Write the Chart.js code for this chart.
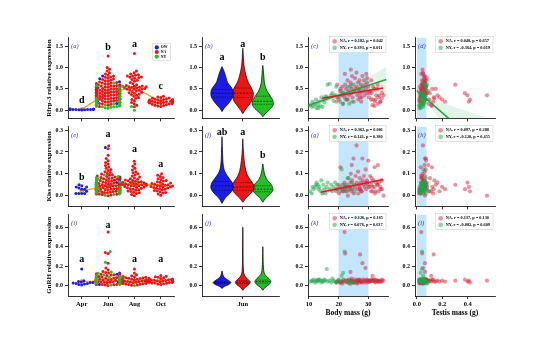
<!DOCTYPE html>
<html>
<head>
<meta charset="utf-8">
<title>Rfrp-3, Kiss and GnRH expression</title>
<script src="https://cdn.jsdelivr.net/npm/chart.js@4.4.1/dist/chart.umd.min.js"></script>
<style>
  html, body { margin: 0; padding: 0; background: #fff; }
  #fig { position: relative; width: 550px; height: 338px; overflow: hidden; background: #fff; }
  #fig canvas { position: absolute; }
</style>
</head>
<body>
<div id="fig"></div>
<script>
// ---------- month data (swarm panels) ----------
const months = ['Apr', 'Jun', 'Aug', 'Oct'];

// Rfrp-3
const rfrpAprOW = [0.01, 0.02, 0.03, 0.02, 0.01, 0.02, 0.03, 0.02, 0.01, 0.02, 0.02, 0.03];
const rfrpJunNA = [0.09, 0.12, 0.14, 0.15, 0.17, 0.18, 0.19, 0.20, 0.21, 0.22,
  0.23, 0.24, 0.25, 0.26, 0.26, 0.27, 0.28, 0.29, 0.30, 0.31,
  0.31, 0.32, 0.33, 0.34, 0.35, 0.35, 0.36, 0.37, 0.38, 0.38,
  0.39, 0.40, 0.40, 0.41, 0.42, 0.42, 0.43, 0.44, 0.45, 0.45,
  0.46, 0.47, 0.48, 0.48, 0.49, 0.50, 0.51, 0.52, 0.53, 0.54,
  0.55, 0.56, 0.57, 0.58, 0.59, 0.60, 0.61, 0.62, 0.63, 0.64,
  0.65, 0.66, 0.68, 0.69, 0.70, 0.72, 0.73, 0.75, 0.77, 0.78,
  0.80, 0.82, 0.85, 0.88, 0.92, 0.96, 1.00, 1.27, 0.16, 0.24,
  0.33, 0.29, 0.36, 0.43, 0.47, 0.51, 0.27, 0.39, 0.34, 0.44,
  0.57, 0.25, 0.30, 0.41, 0.37, 0.22, 0.32, 0.46, 0.53, 0.62];
const rfrpJunOW = [0.10, 0.16, 0.21, 0.26, 0.30, 0.34, 0.38, 0.41, 0.45, 0.49, 0.53, 0.58, 0.62, 0.67, 0.74, 0.80, 0.28, 0.44];
const rfrpJunNY = [0.05, 0.06, 0.07, 0.08, 0.08, 0.09, 0.10, 0.10, 0.11, 0.12, 0.12, 0.13, 0.14, 0.15, 0.15,
  0.16, 0.17, 0.18, 0.19, 0.20, 0.22, 0.24, 0.26, 0.28, 0.31, 0.36, 0.44, 0.52, 0.58, 0.64];
const rfrpAugNA = [1.33, 0.92, 0.88, 0.85, 0.83, 0.82, 0.80, 0.80, 0.78, 0.77, 0.76, 0.75, 0.72, 0.70, 0.68,
  0.65, 0.62, 0.60, 0.58, 0.57, 0.56, 0.55, 0.55, 0.54, 0.53, 0.53, 0.52, 0.51, 0.50, 0.50,
  0.49, 0.48, 0.47, 0.45, 0.44, 0.42, 0.41, 0.40, 0.38, 0.37, 0.35, 0.33, 0.30, 0.28, 0.25,
  0.22, 0.18, 0.15, 0.12, 0.08];
const rfrpAugNY = [0.00, 0.09, 0.56];
const rfrpOctNA = [0.33, 0.31, 0.30, 0.29, 0.28, 0.27, 0.26, 0.25, 0.25, 0.24, 0.23, 0.23, 0.22, 0.22, 0.21,
  0.21, 0.20, 0.20, 0.20, 0.19, 0.19, 0.18, 0.18, 0.17, 0.17, 0.16, 0.15, 0.15, 0.14, 0.13,
  0.12, 0.11, 0.10, 0.09, 0.24];
const rfrpMeans = [0.02, 0.42, 0.53, 0.20];

// Kiss
const kissAprOW = [0.01, 0.01, 0.01, 0.01, 0.02, 0.03, 0.035, 0.04, 0.04, 0.045, 0.05, 0.03];
const kissJunNA = [0.000, 0.003, 0.005, 0.007, 0.008, 0.010, 0.011, 0.012, 0.013, 0.015,
  0.016, 0.017, 0.018, 0.019, 0.020, 0.021, 0.022, 0.023, 0.024, 0.025,
  0.026, 0.027, 0.028, 0.029, 0.030, 0.031, 0.032, 0.033, 0.034, 0.035,
  0.036, 0.037, 0.038, 0.039, 0.040, 0.041, 0.042, 0.043, 0.044, 0.045,
  0.046, 0.047, 0.048, 0.049, 0.050, 0.051, 0.052, 0.053, 0.055, 0.056,
  0.058, 0.060, 0.061, 0.063, 0.065, 0.067, 0.069, 0.071, 0.073, 0.075,
  0.077, 0.079, 0.081, 0.083, 0.085, 0.088, 0.090, 0.093, 0.096, 0.099,
  0.102, 0.106, 0.110, 0.115, 0.120, 0.125, 0.131, 0.138, 0.145, 0.152,
  0.160, 0.170, 0.185, 0.215, 0.228, 0.014, 0.027, 0.038, 0.044, 0.054,
  0.062, 0.009, 0.024, 0.034, 0.047, 0.057, 0.068, 0.080, 0.020, 0.031];
const kissJunOW = [0.008, 0.015, 0.022, 0.028, 0.035, 0.040, 0.046, 0.052, 0.060, 0.068, 0.075, 0.085, 0.030, 0.018, 0.050, 0.220, 0.062, 0.042];
const kissJunNY = [0.002, 0.006, 0.010, 0.012, 0.015, 0.018, 0.020, 0.023, 0.026, 0.028, 0.030, 0.033, 0.035, 0.038, 0.040,
  0.043, 0.046, 0.050, 0.053, 0.057, 0.060, 0.064, 0.068, 0.072, 0.077, 0.082, 0.088, 0.095, 0.045, 0.025];
const kissAugNA = [0.000, 0.005, 0.010, 0.013, 0.016, 0.019, 0.022, 0.025, 0.027, 0.030,
  0.032, 0.034, 0.036, 0.038, 0.040, 0.042, 0.044, 0.046, 0.048, 0.050,
  0.051, 0.052, 0.054, 0.055, 0.057, 0.058, 0.060, 0.062, 0.064, 0.066,
  0.068, 0.070, 0.072, 0.075, 0.078, 0.081, 0.085, 0.090, 0.095, 0.100,
  0.105, 0.110, 0.118, 0.125, 0.135, 0.145, 0.158, 0.050, 0.045, 0.061];
const kissOctNA = [0.002, 0.008, 0.012, 0.015, 0.018, 0.021, 0.024, 0.027, 0.030, 0.032,
  0.034, 0.036, 0.038, 0.040, 0.042, 0.044, 0.046, 0.048, 0.050, 0.052,
  0.054, 0.056, 0.058, 0.061, 0.064, 0.067, 0.070, 0.074, 0.078, 0.083,
  0.088, 0.094, 0.100, 0.047, 0.041];
const kissMeans = [0.022, 0.045, 0.052, 0.048];

// GnRH
const gnrhAprOW = [0.005, 0.01, 0.015, 0.02, 0.02, 0.025, 0.03, 0.03, 0.035, 0.04, 0.05, 0.17];
const gnrhJunNA = [0.000, 0.004, 0.007, 0.010, 0.012, 0.014, 0.016, 0.018, 0.020, 0.022,
  0.024, 0.026, 0.028, 0.030, 0.031, 0.032, 0.034, 0.035, 0.036, 0.038,
  0.039, 0.040, 0.041, 0.042, 0.043, 0.044, 0.045, 0.046, 0.047, 0.048,
  0.049, 0.050, 0.051, 0.052, 0.053, 0.054, 0.055, 0.056, 0.057, 0.058,
  0.059, 0.060, 0.062, 0.063, 0.065, 0.066, 0.068, 0.070, 0.072, 0.074,
  0.076, 0.078, 0.080, 0.082, 0.085, 0.088, 0.090, 0.093, 0.096, 0.100,
  0.104, 0.108, 0.112, 0.117, 0.122, 0.128, 0.135, 0.145, 0.160, 0.180,
  0.230, 0.330, 0.340, 0.550, 0.025, 0.033, 0.037, 0.043, 0.048, 0.052,
  0.058, 0.064, 0.071, 0.079, 0.087, 0.015, 0.029, 0.040, 0.046, 0.055,
  0.061, 0.069, 0.075, 0.083, 0.011, 0.027, 0.044, 0.050, 0.060, 0.120];
const gnrhJunOW = [0.010, 0.018, 0.025, 0.032, 0.038, 0.044, 0.050, 0.056, 0.062, 0.070, 0.078, 0.088, 0.100, 0.115, 0.130, 0.040, 0.028, 0.060];
const gnrhJunNY = [0.005, 0.012, 0.018, 0.023, 0.028, 0.032, 0.036, 0.040, 0.043, 0.046, 0.050, 0.053, 0.057, 0.061, 0.065,
  0.070, 0.075, 0.080, 0.086, 0.093, 0.100, 0.110, 0.125, 0.140, 0.240, 0.350, 0.030, 0.048, 0.058, 0.068];
const gnrhAugNA = [0.002, 0.006, 0.010, 0.013, 0.016, 0.018, 0.020, 0.022, 0.024, 0.026,
  0.028, 0.030, 0.031, 0.032, 0.034, 0.035, 0.036, 0.038, 0.039, 0.040,
  0.041, 0.042, 0.043, 0.044, 0.045, 0.046, 0.048, 0.049, 0.050, 0.052,
  0.054, 0.055, 0.057, 0.059, 0.061, 0.063, 0.065, 0.068, 0.071, 0.074,
  0.077, 0.080, 0.084, 0.088, 0.093, 0.100, 0.110, 0.130, 0.170, 0.037];
const gnrhAugNY = [0.000];
const gnrhOctNA = [0.010, 0.015, 0.019, 0.022, 0.025, 0.027, 0.030, 0.032, 0.034, 0.036,
  0.038, 0.040, 0.041, 0.043, 0.045, 0.046, 0.048, 0.050, 0.052, 0.054,
  0.056, 0.058, 0.060, 0.062, 0.065, 0.068, 0.071, 0.075, 0.079, 0.084,
  0.089, 0.095, 0.102, 0.044, 0.039];
const gnrhMeans = [0.04, 0.048, 0.043, 0.045];

// ---------- June violins: [level, relative half width] ----------
const vRfrpOW = [[-0.03, 0], [0.05, 0.2], [0.15, 0.55], [0.25, 0.83], [0.32, 0.97], [0.40, 1.0], [0.48, 0.95], [0.56, 0.76], [0.65, 0.5], [0.75, 0.38], [0.85, 0.26], [0.95, 0.13], [1.02, 0]];
const vRfrpNA = [[-0.08, 0], [0.0, 0.2], [0.1, 0.5], [0.2, 0.8], [0.3, 0.95], [0.38, 1.0], [0.45, 0.95], [0.55, 0.75], [0.65, 0.52], [0.75, 0.37], [0.85, 0.26], [0.95, 0.18], [1.05, 0.11], [1.2, 0.06], [1.35, 0.035], [1.45, 0]];
const vRfrpNY = [[-0.15, 0], [-0.08, 0.22], [0.0, 0.58], [0.08, 0.88], [0.15, 1.0], [0.22, 0.96], [0.3, 0.8], [0.38, 0.58], [0.45, 0.4], [0.55, 0.24], [0.65, 0.15], [0.75, 0.11], [0.85, 0.075], [0.95, 0.045], [1.05, 0]];
const qRfrp = [[0.31, 0.40, 0.49], [0.30, 0.40, 0.52], [0.14, 0.21, 0.33]];

const vKissOW = [[-0.035, 0], [-0.01, 0.3], [0.01, 0.7], [0.03, 0.97], [0.045, 1.0], [0.06, 0.9], [0.08, 0.63], [0.10, 0.35], [0.12, 0.18], [0.15, 0.09], [0.18, 0.06], [0.21, 0.04], [0.24, 0.02], [0.27, 0]];
const vKissNA = [[-0.03, 0], [-0.01, 0.3], [0.01, 0.7], [0.03, 0.98], [0.045, 1.0], [0.06, 0.85], [0.08, 0.57], [0.10, 0.36], [0.13, 0.21], [0.16, 0.13], [0.19, 0.07], [0.22, 0.035], [0.26, 0]];
const vKissNY = [[-0.03, 0], [-0.01, 0.3], [0.01, 0.77], [0.025, 1.0], [0.04, 0.96], [0.055, 0.77], [0.07, 0.46], [0.09, 0.23], [0.11, 0.12], [0.13, 0.05], [0.145, 0]];
const qKiss = [[0.025, 0.045, 0.065], [0.025, 0.04, 0.06], [0.018, 0.03, 0.045]];

const vGnrhOW = [[-0.03, 0], [-0.01, 0.26], [0.01, 0.77], [0.03, 1.0], [0.05, 0.77], [0.07, 0.43], [0.09, 0.21], [0.11, 0.1], [0.13, 0.05], [0.15, 0]];
const vGnrhNA = [[-0.05, 0], [-0.02, 0.3], [0.01, 0.82], [0.035, 1.0], [0.06, 0.72], [0.09, 0.36], [0.12, 0.15], [0.16, 0.08], [0.25, 0.04], [0.4, 0.03], [0.6, 0]];
const vGnrhNY = [[-0.05, 0], [-0.02, 0.29], [0.01, 0.77], [0.04, 1.0], [0.07, 0.77], [0.1, 0.38], [0.13, 0.17], [0.18, 0.08], [0.26, 0.04], [0.4, 0]];
const qGnrh = [[0.02, 0.03, 0.04], [0.02, 0.035, 0.05], [0.025, 0.04, 0.055]];

// ---------- individuals with body and testis mass ----------
const naBody = [19.2, 19.6, 20.1, 20.4, 21.0, 21.3, 21.6, 22.0, 22.2, 22.5,
  22.8, 23.0, 23.3, 23.5, 23.8, 24.0, 24.2, 24.5, 24.7, 25.0,
  25.2, 25.5, 25.7, 26.0, 26.1, 26.3, 26.5, 26.8, 27.0, 27.1,
  27.3, 27.5, 27.7, 28.0, 28.1, 28.3, 28.5, 28.7, 29.0, 29.1,
  29.3, 29.5, 29.7, 30.0, 30.2,
  24.1, 25.1, 21.4, 23.1, 26.6, 27.6, 22.1, 20.6, 19.5, 24.4, 29.6, 30.6, 31.0, 31.6, 30.4,
  31.1, 32.0, 27.2, 33.0, 32.6, 33.4, 31.5, 34.1, 32.2, 30.9, 33.1, 34.6, 33.6, 32.4, 34.0, 35.1, 32.1, 33.2, 31.4, 34.5];
const naTestis = [0.021, 0.032, 0.018, 0.043, 0.029, 0.052, 0.024, 0.035, 0.041, 0.056,
  0.031, 0.062, 0.038, 0.049, 0.022, 0.064, 0.044, 0.053, 0.027, 0.071,
  0.039, 0.058, 0.033, 0.047, 0.068, 0.042, 0.061, 0.051, 0.057, 0.036,
  0.072, 0.046, 0.028, 0.063, 0.054, 0.075, 0.041, 0.066, 0.048, 0.069,
  0.034, 0.059, 0.045, 0.073, 0.037,
  0.044, 0.026, 0.055, 0.063, 0.070, 0.040, 0.050, 0.030, 0.036, 0.060, 0.078, 0.062, 0.074, 0.052, 0.081,
  0.102, 0.121, 0.132, 0.148, 0.162, 0.178, 0.198, 0.221, 0.128, 0.098, 0.302, 0.378, 0.398, 0.418, 0.409, 0.552, 0.118, 0.090, 0.112, 0.138];
const naRfrp = [0.20, 0.30, 0.25, 0.45, 0.35, 0.55, 0.40, 0.30, 0.60, 0.50,
  0.25, 0.70, 0.45, 0.35, 0.55, 0.65, 0.40, 0.80, 0.30, 0.60,
  0.45, 0.75, 0.50, 0.88, 0.55, 0.35, 0.65, 0.45, 0.70, 0.50,
  0.40, 0.60, 0.30, 0.80, 0.55, 0.45, 0.70, 0.35, 0.60, 0.50,
  0.85, 0.40, 0.65, 0.55, 0.30,
  0.95, 0.20, 0.15, 0.25, 0.25, 0.20, 0.85, 0.50, 0.60, 0.50, 0.75, 0.45, 0.70, 0.55, 0.40,
  0.40, 0.50, 0.30, 0.50, 0.35, 0.30, 0.25, 0.20, 0.20, 0.25, 0.60, 0.40, 0.35, 0.25, 0.20, 0.35, 0.10, 0.15, 0.12, 0.28];
const naKiss = [0.02, 0.03, 0.01, 0.04, 0.03, 0.05, 0.02, 0.06, 0.03, 0.04,
  0.02, 0.05, 0.08, 0.03, 0.04, 0.06, 0.02, 0.07, 0.03, 0.17,
  0.05, 0.04, 0.09, 0.23, 0.06, 0.03, 0.11, 0.05, 0.04, 0.08,
  0.03, 0.06, 0.02, 0.17, 0.07, 0.05, 0.09, 0.04, 0.06, 0.12,
  0.03, 0.07, 0.05, 0.16, 0.04,
  0.10, 0.01, 0.02, 0.00, 0.01, 0.02, 0.04, 0.13, 0.05, 0.14, 0.06, 0.09, 0.05, 0.07, 0.04,
  0.08, 0.04, 0.03, 0.05, 0.06, 0.02, 0.04, 0.03, 0.01, 0.02, 0.05, 0.03, 0.06, 0.02, 0.04, 0.00, 0.13, 0.14, 0.02, 0.07];
const naGnrh = [0.03, 0.04, 0.05, 0.03, 0.04, 0.02, 0.06, 0.55, 0.33, 0.04,
  0.05, 0.03, 0.04, 0.06, 0.02, 0.14, 0.05, 0.04, 0.03, 0.05,
  0.04, 0.06, 0.03, 0.05, 0.04, 0.02, 0.05, 0.03, 0.05, 0.06,
  0.04, 0.05, 0.03, 0.23, 0.04, 0.06, 0.05, 0.03, 0.18, 0.05,
  0.04, 0.06, 0.03, 0.05, 0.04,
  0.05, 0.03, 0.04, 0.05, 0.06, 0.04, 0.05, 0.03, 0.04, 0.07, 0.05, 0.04, 0.06, 0.05, 0.05,
  0.05, 0.06, 0.32, 0.04, 0.05, 0.04, 0.05, 0.04, 0.06, 0.05, 0.05, 0.06, 0.04, 0.03, 0.05, 0.05, 0.04, 0.05, 0.10, 0.04];

const nyBody = [10.4, 11.0, 11.6, 12.1, 12.6, 13.0, 13.5, 13.9, 14.2, 14.9, 15.2, 15.6, 16.0, 16.3, 17.0, 17.5, 17.9, 18.3,
  18.8, 19.2, 19.9, 20.5, 21.0, 21.5, 22.0, 22.4, 23.0, 23.6, 24.1, 24.5, 25.3, 12.4, 13.2, 11.2, 14.6];
const nyTestis = [0.02, 0.03, 0.02, 0.04, 0.03, 0.05, 0.04, 0.03, 0.06, 0.04, 0.05, 0.03, 0.04, 0.06, 0.05, 0.07, 0.04, 0.06,
  0.05, 0.07, 0.06, 0.04, 0.05, 0.03, 0.04, 0.06, 0.07, 0.05, 0.08, 0.06, 0.09, 0.03, 0.02, 0.04, 0.05];
const nyRfrp = [0.12, 0.08, 0.10, 0.15, 0.05, 0.12, 0.20, 0.10, 0.30, 0.25, 0.18, 0.32, 0.30, 0.60, 0.62, 0.35, 0.40, 0.22,
  0.35, 0.55, 0.30, 0.20, 0.45, 0.15, 0.38, 0.25, 0.55, 0.15, 0.60, 0.20, 0.45, 0.25, 0.05, 0.20, 0.08];
const nyKiss = [0.02, 0.01, 0.03, 0.04, 0.06, 0.05, 0.04, 0.02, 0.07, 0.05, 0.03, 0.01, 0.04, 0.06, 0.03, 0.05, 0.02, 0.04,
  0.06, 0.03, 0.05, 0.02, 0.12, 0.03, 0.05, 0.02, 0.08, 0.04, 0.03, 0.06, 0.02, 0.05, 0.03, 0.04, 0.01];
const nyGnrh = [0.04, 0.05, 0.06, 0.03, 0.05, 0.04, 0.06, 0.05, 0.03, 0.04, 0.06, 0.05, 0.17, 0.04, 0.05, 0.03, 0.07, 0.05,
  0.04, 0.03, 0.06, 0.04, 0.10, 0.13, 0.35, 0.04, 0.05, 0.03, 0.02, 0.04, 0.03, 0.05, 0.06, 0.04, 0.05];

// correlation labels
const statsC = ['NA, r = 0.182, p = 0.042', 'NY, r = 0.393, p = 0.011'];
const statsD = ['NA, r = 0.048, p = 0.657', 'NY, r = -0.364, p = 0.019'];
const statsG = ['NA, r = 0.362, p = 0.001', 'NY, r = 0.141, p = 0.380'];
const statsH = ['NA, r = 0.097, p = 0.288', 'NY, r = -0.120, p = 0.455'];
const statsK = ['NA, r = 0.126, p = 0.165', 'NY, r = 0.076, p = 0.637'];
const statsL = ['NA, r = 0.137, p = 0.130', 'NY, r = -0.082, p = 0.609'];

// fitted lines and 95% bands [x, low, high]
const fitC_NA = [[14.5, 0.28], [35, 0.52]];
const bandC_NA = [[14.5, 0.19, 0.37], [20, 0.29, 0.39], [25, 0.37, 0.44], [30, 0.42, 0.50], [35, 0.44, 0.60]];
const fitC_NY = [[10, 0.12], [36, 0.72]];
const bandC_NY = [[10, 0.04, 0.20], [15, 0.185, 0.285], [20, 0.29, 0.41], [25, 0.36, 0.57], [30, 0.40, 0.76], [36, 0.42, 1.02]];
const fitD_NY = [[0, 0.46], [0.25, -0.19]];
const bandD_NY = [[0, 0.40, 0.52], [0.05, 0.26, 0.40], [0.1, 0.10, 0.30], [0.2, -0.29, 0.17], [0.4, -0.9, -0.02], [0.62, -1.5, -0.25]];
const fitG_NA = [[14, 0.016], [35, 0.074]];
const bandG_NA = [[14, 0.001, 0.031], [20, 0.025, 0.041], [25, 0.040, 0.052], [30, 0.053, 0.067], [35, 0.060, 0.088]];

const bodySpan = [20, 30];
const testisSpan = [0, 0.075];

// ---------- layout ----------
const FONT = '"Liberation Serif", "DejaVu Serif", serif';
Chart.defaults.font.family = FONT;
Chart.defaults.color = '#000';

const COLS = [[68, 177], [202, 279], [308, 390], [415, 497]];
const ROWS = [[36, 119], [125, 207], [213, 296]];
const Y_RANGE = [[-0.19, 1.70], [-0.049, 0.316], [-0.108, 0.73]];
const Y_TICKS = [[0, 0.5, 1.0, 1.5], [0, 0.1, 0.2, 0.3], [0, 0.2, 0.4, 0.6]];
const X_MONTH = [-0.52, 3.52];
const X_VIOLIN = [0, 1];
const X_BODY = [9.7, 36.6];
const X_TESTIS = [-0.015, 0.615];
const PAD_T = 4, PAD_R = 2;

const PX_Y = ROWS.map((r, i) => (r[1] - r[0]) / (Y_RANGE[i][1] - Y_RANGE[i][0]));
const PX_MONTH = (COLS[0][1] - COLS[0][0]) / (X_MONTH[1] - X_MONTH[0]);
const SWARM_HALF = 12, SWARM_GAP = 3;

const VIO_X = [0.26, 0.53, 0.79];
const VIO_HALF = 0.145;

const RED = '#f01414', BLUE = '#1c1ce8', GREEN = '#22c022', ORANGE = '#f4a522';
const NA_FILL = 'rgba(212, 40, 60, 0.5)', NY_FILL = 'rgba(30, 165, 75, 0.5)';
const NA_LINE = '#d41f2a', NY_LINE = '#23a043';
const NA_BAND = 'rgba(212, 40, 60, 0.14)', NY_BAND = 'rgba(40, 175, 80, 0.14)';
const SPAN_BLUE = 'rgba(135, 206, 250, 0.5)';
const TAG_BLUE = '#3636b0';

function makeCanvas(col, row, yW, xH) {
  const [x0, x1] = COLS[col], [y0, y1] = ROWS[row];
  const c = document.createElement('canvas');
  c.width = yW + (x1 - x0) + PAD_R;
  c.height = PAD_T + (y1 - y0) + xH;
  c.style.left = (x0 - yW) + 'px';
  c.style.top = (y0 - PAD_T) + 'px';
  document.getElementById('fig').appendChild(c);
  return c;
}

function yAxis(row, width, title) {
  return {
    type: 'linear', position: 'left', min: Y_RANGE[row][0], max: Y_RANGE[row][1],
    afterBuildTicks: s => { s.ticks = Y_TICKS[row].map(v => ({ value: v })); },
    afterFit: s => { s.width = width; },
    ticks: { font: { size: 6, weight: 'bold' }, padding: 2, autoSkip: false, callback: v => v.toFixed(1) },
    grid: { drawOnChartArea: false, tickLength: 3, color: '#000', lineWidth: 0.8 },
    border: { color: '#000', width: 0.8 },
    title: title ? { display: true, text: title, font: { size: 7, weight: 'bold' }, padding: 0 } : { display: false }
  };
}

function xAxis(range, ticks, label, height, title) {
  return {
    type: 'linear', position: 'bottom', min: range[0], max: range[1],
    afterBuildTicks: s => { s.ticks = ticks.map(v => ({ value: v })); },
    afterFit: s => { s.height = height; },
    ticks: { font: { size: 6.5, weight: 'bold' }, padding: 1, maxRotation: 0, autoSkip: false, callback: label },
    grid: { drawOnChartArea: false, tickLength: 3, color: '#000', lineWidth: 0.8 },
    border: { color: '#000', width: 0.8 },
    title: title ? { display: true, text: title, font: { size: 7.5, weight: 'bold' }, padding: 0 } : { display: false }
  };
}

function drawLegend(ctx, a, lg) {
  ctx.font = `bold ${lg.size}px ${FONT}`;
  const tw = Math.max(...lg.items.map(it => ctx.measureText(it[0]).width));
  const w = lg.indent + tw + 3, h = lg.items.length * lg.row + 3;
  const x = a.right - lg.right - w, y = a.top + lg.top;
  ctx.fillStyle = 'rgba(255,255,255,0.85)';
  ctx.fillRect(x, y, w, h);
  ctx.strokeStyle = '#cfcfcf';
  ctx.lineWidth = 0.6;
  ctx.strokeRect(x, y, w, h);
  ctx.textAlign = 'left';
  ctx.textBaseline = 'middle';
  lg.items.forEach(([text, colour], i) => {
    const cy = y + 1.5 + lg.row * (i + 0.5);
    ctx.beginPath();
    ctx.arc(x + lg.indent / 2, cy, lg.r, 0, Math.PI * 2);
    ctx.fillStyle = colour;
    ctx.fill();
    ctx.fillStyle = '#000';
    ctx.fillText(text, x + lg.indent, cy);
  });
}

// panel tag, significance letters and legend box
function notes(cfg) {
  return {
    id: 'notes',
    afterDatasetsDraw(chart) {
      const { ctx, chartArea: a, scales } = chart;
      ctx.save();
      ctx.textBaseline = 'middle';
      ctx.font = `italic 6.5px ${FONT}`;
      ctx.fillStyle = TAG_BLUE;
      ctx.textAlign = 'left';
      ctx.fillText(cfg.tag, a.left + 3, a.top + 8.5);
      if (cfg.letters) {
        ctx.font = `bold 10px ${FONT}`;
        ctx.fillStyle = '#000';
        ctx.textAlign = 'center';
        cfg.letters.forEach((t, i) => {
          ctx.fillText(t, scales.x.getPixelForValue(cfg.letterX[i]), scales.y.getPixelForValue(cfg.letterY[i]));
        });
      }
      if (cfg.legend) drawLegend(ctx, a, cfg.legend);
      ctx.restore();
    }
  };
}

function baseOptions(scales) {
  return {
    responsive: false, animation: false, devicePixelRatio: 1, events: [],
    layout: { padding: { top: PAD_T, right: PAD_R, left: 0, bottom: 0 } },
    plugins: { legend: { display: false }, tooltip: { enabled: false } },
    scales
  };
}

// seaborn-like beeswarm: offsets in pixels, pushed to the gutters when too wide
function swarmOffsets(values, pxY, halfW, gap) {
  const order = values.map((v, i) => i).sort((a, b) => values[a] - values[b]);
  const placed = [];
  const out = new Array(values.length).fill(0);
  order.forEach(i => {
    const y = values[i] * pxY;
    const near = placed.filter(p => Math.abs(p.y - y) < gap);
    const cands = [0];
    near.forEach(p => {
      const dx = Math.sqrt(gap * gap - (p.y - y) ** 2);
      cands.push(p.x - dx, p.x + dx);
    });
    cands.sort((a, b) => Math.abs(a) - Math.abs(b));
    const x = cands.find(c => near.every(p => (p.x - c) ** 2 + (p.y - y) ** 2 >= gap * gap - 1e-6));
    placed.push({ x, y });
    out[i] = x;
  });
  return out.map(x => Math.max(-halfW, Math.min(halfW, x)));
}

function dots(data, colour, r, order) {
  return { data, backgroundColor: colour, borderColor: colour, pointRadius: r, pointBorderWidth: 0, order };
}

function polygon(data, colour, order) {
  return { data, showLine: true, fill: 'shape', backgroundColor: colour, borderColor: 'rgba(0,0,0,0)',
    borderWidth: 0, pointRadius: 0, tension: 0, order };
}

function swarmPanel(row, sets, means, letters, letterY, tag, title, legend) {
  const xH = row === 2 ? 22 : 5;
  const canvas = makeCanvas(0, row, 23, xH);
  const byGroup = { OW: [], NA: [], NY: [] };
  months.forEach((m, mi) => {
    const pts = [];
    sets.filter(s => s.m === mi).forEach(s => s.v.forEach(v => pts.push({ g: s.g, v })));
    const offs = swarmOffsets(pts.map(p => p.v), PX_Y[row], SWARM_HALF, SWARM_GAP);
    pts.forEach((p, k) => byGroup[p.g].push({ x: mi + offs[k] / PX_MONTH, y: p.v }));
  });
  const datasets = [
    { data: means.map((v, i) => ({ x: i, y: v })), showLine: true, borderColor: ORANGE, borderWidth: 1.4,
      pointRadius: 2, pointBackgroundColor: ORANGE, pointBorderColor: '#c47a10', pointBorderWidth: 0.5, order: 7 },
    dots(byGroup.OW, BLUE, 1.5, 6),
    dots(byGroup.NA, RED, 1.5, 5),
    dots(byGroup.NY, GREEN, 1.5, 3)
  ];
  new Chart(canvas, {
    type: 'scatter',
    data: { datasets },
    options: baseOptions({
      x: xAxis(X_MONTH, [0, 1, 2, 3], (v, i) => (row === 2 ? months[i] : ''), xH, null),
      y: yAxis(row, 23, title)
    }),
    plugins: [notes({ tag, letters, letterX: [0, 1, 2, 3], letterY, legend })]
  });
}

function widthAt(shape, q) {
  for (let k = 1; k < shape.length; k++) {
    if (q <= shape[k][0]) {
      const [y0, w0] = shape[k - 1], [y1, w1] = shape[k];
      return w0 + (w1 - w0) * (q - y0) / (y1 - y0);
    }
  }
  return 0;
}

function violin(shape, quart, centre, colour, peak) {
  const H = VIO_HALF * peak;
  const right = shape.map(([y, w]) => ({ x: centre + w * H, y }));
  const left = shape.slice().reverse().map(([y, w]) => ({ x: centre - w * H, y }));
  const out = [{ data: right.concat(left), showLine: true, fill: 'shape', backgroundColor: colour,
    borderColor: '#000', borderWidth: 0.7, pointRadius: 0, tension: 0.3, order: 5 }];
  quart.forEach((q, k) => {
    const w = widthAt(shape, q) * H * 0.9;
    out.push({ data: [{ x: centre - w, y: q }, { x: centre + w, y: q }], showLine: true, borderColor: '#000',
      borderWidth: 0.6, borderDash: k === 1 ? [2, 1.2] : [0.9, 0.9], pointRadius: 0, order: 2 });
  });
  return out;
}

function violinPanel(row, shapes, quarts, peaks, letters, letterY, tag) {
  const xH = row === 2 ? 22 : 5;
  const canvas = makeCanvas(1, row, 22, xH);
  const colours = [BLUE, RED, GREEN];
  const datasets = [];
  shapes.forEach((s, i) => datasets.push(...violin(s, quarts[i], VIO_X[i], colours[i], peaks[i])));
  new Chart(canvas, {
    type: 'scatter',
    data: { datasets },
    options: baseOptions({
      x: xAxis(X_VIOLIN, [VIO_X[1]], () => (row === 2 ? 'Jun' : ''), xH, null),
      y: yAxis(row, 22, null)
    }),
    plugins: [notes({ tag, letters, letterX: VIO_X, letterY })]
  });
}

function fitSets(line, band, lineColour, bandColour) {
  const upper = band.map(([x, lo, hi]) => ({ x, y: hi }));
  const lower = band.slice().reverse().map(([x, lo]) => ({ x, y: lo }));
  return [
    polygon(upper.concat(lower), bandColour, 8),
    { data: line.map(([x, y]) => ({ x, y })), showLine: true, borderColor: lineColour, borderWidth: 1.4, pointRadius: 0, order: 1 }
  ];
}

function scatterPanel(col, row, cfg) {
  const xH = row === 2 ? 22 : 5;
  const canvas = makeCanvas(col, row, 22, xH);
  const body = col === 2;
  const range = body ? X_BODY : X_TESTIS;
  const [y0, y1] = Y_RANGE[row];
  const span = body ? bodySpan : testisSpan;
  const datasets = [
    polygon([{ x: span[0], y: y0 }, { x: span[1], y: y0 }, { x: span[1], y: y1 }, { x: span[0], y: y1 }], SPAN_BLUE, 10)
  ];
  cfg.fits.forEach(f => datasets.push(...fitSets(f[0], f[1], f[2], f[3])));
  datasets.push(dots(cfg.na, NA_FILL, 2.1, 5));
  datasets.push(dots(cfg.ny, NY_FILL, 2.1, 4));
  const ticks = body ? [10, 20, 30] : [0, 0.2, 0.4];
  const label = v => (row === 2 ? (body ? String(v) : v.toFixed(1)) : '');
  const title = row === 2 ? (body ? 'Body mass (g)' : 'Testis mass (g)') : null;
  new Chart(canvas, {
    type: 'scatter',
    data: { datasets },
    options: baseOptions({ x: xAxis(range, ticks, label, xH, title), y: yAxis(row, 22, null) }),
    plugins: [notes({ tag: cfg.tag, legend: { size: 4.3, row: 6.5, indent: 10, r: 2.3, right: 2, top: -1,
      items: [[cfg.stats[0], NA_FILL], [cfg.stats[1], NY_FILL]] } })]
  });
}

const pairs = (xs, ys) => xs.map((x, i) => ({ x, y: ys[i] }));

// ---------- row 1: Rfrp-3 ----------
swarmPanel(0, [
  { m: 0, g: 'OW', v: rfrpAprOW },
  { m: 1, g: 'NA', v: rfrpJunNA }, { m: 1, g: 'OW', v: rfrpJunOW }, { m: 1, g: 'NY', v: rfrpJunNY },
  { m: 2, g: 'NA', v: rfrpAugNA }, { m: 2, g: 'NY', v: rfrpAugNY },
  { m: 3, g: 'NA', v: rfrpOctNA }
], rfrpMeans, ['d', 'b', 'a', 'c'], [0.24, 1.47, 1.55, 0.55], '(a)', 'Rfrp-3 relative expression',
  { size: 3.8, row: 4.6, indent: 8, r: 2.1, right: 4, top: 6, items: [['OW', BLUE], ['NA', RED], ['NY', GREEN]] });
violinPanel(0, [vRfrpOW, vRfrpNA, vRfrpNY], qRfrp, [1.0, 0.95, 0.95], ['a', 'a', 'b'], [1.24, 1.55, 1.24], '(b)');
scatterPanel(2, 0, { tag: '(c)', stats: statsC, na: pairs(naBody, naRfrp), ny: pairs(nyBody, nyRfrp),
  fits: [[fitC_NA, bandC_NA, NA_LINE, NA_BAND], [fitC_NY, bandC_NY, NY_LINE, NY_BAND]] });
scatterPanel(3, 0, { tag: '(d)', stats: statsD, na: pairs(naTestis, naRfrp), ny: pairs(nyTestis, nyRfrp),
  fits: [[fitD_NY, bandD_NY, NY_LINE, NY_BAND]] });

// ---------- row 2: Kiss ----------
swarmPanel(1, [
  { m: 0, g: 'OW', v: kissAprOW },
  { m: 1, g: 'NA', v: kissJunNA }, { m: 1, g: 'OW', v: kissJunOW }, { m: 1, g: 'NY', v: kissJunNY },
  { m: 2, g: 'NA', v: kissAugNA },
  { m: 3, g: 'NA', v: kissOctNA }
], kissMeans, ['b', 'a', 'a', 'a'], [0.083, 0.28, 0.21, 0.144], '(e)', 'Kiss relative expression', null);
violinPanel(1, [vKissOW, vKissNA, vKissNY], qKiss, [1.0, 1.0, 0.9], ['ab', 'a', 'b'], [0.29, 0.29, 0.185], '(f)');
scatterPanel(2, 1, { tag: '(g)', stats: statsG, na: pairs(naBody, naKiss), ny: pairs(nyBody, nyKiss),
  fits: [[fitG_NA, bandG_NA, NA_LINE, NA_BAND]] });
scatterPanel(3, 1, { tag: '(h)', stats: statsH, na: pairs(naTestis, naKiss), ny: pairs(nyTestis, nyKiss), fits: [] });

// ---------- row 3: GnRH ----------
swarmPanel(2, [
  { m: 0, g: 'OW', v: gnrhAprOW },
  { m: 1, g: 'NA', v: gnrhJunNA }, { m: 1, g: 'OW', v: gnrhJunOW }, { m: 1, g: 'NY', v: gnrhJunNY },
  { m: 2, g: 'NA', v: gnrhAugNA }, { m: 2, g: 'NY', v: gnrhAugNY },
  { m: 3, g: 'NA', v: gnrhOctNA }
], gnrhMeans, ['a', 'a', 'a', 'a'], [0.27, 0.62, 0.27, 0.27], '(i)', 'GnRH relative expression', null);
violinPanel(2, [vGnrhOW, vGnrhNA, vGnrhNY], qGnrh, [0.8, 0.67, 0.72], null, null, '(j)');
scatterPanel(2, 2, { tag: '(k)', stats: statsK, na: pairs(naBody, naGnrh), ny: pairs(nyBody, nyGnrh), fits: [] });
scatterPanel(3, 2, { tag: '(l)', stats: statsL, na: pairs(naTestis, naGnrh), ny: pairs(nyTestis, nyGnrh), fits: [] });
</script>
</body>
</html>
